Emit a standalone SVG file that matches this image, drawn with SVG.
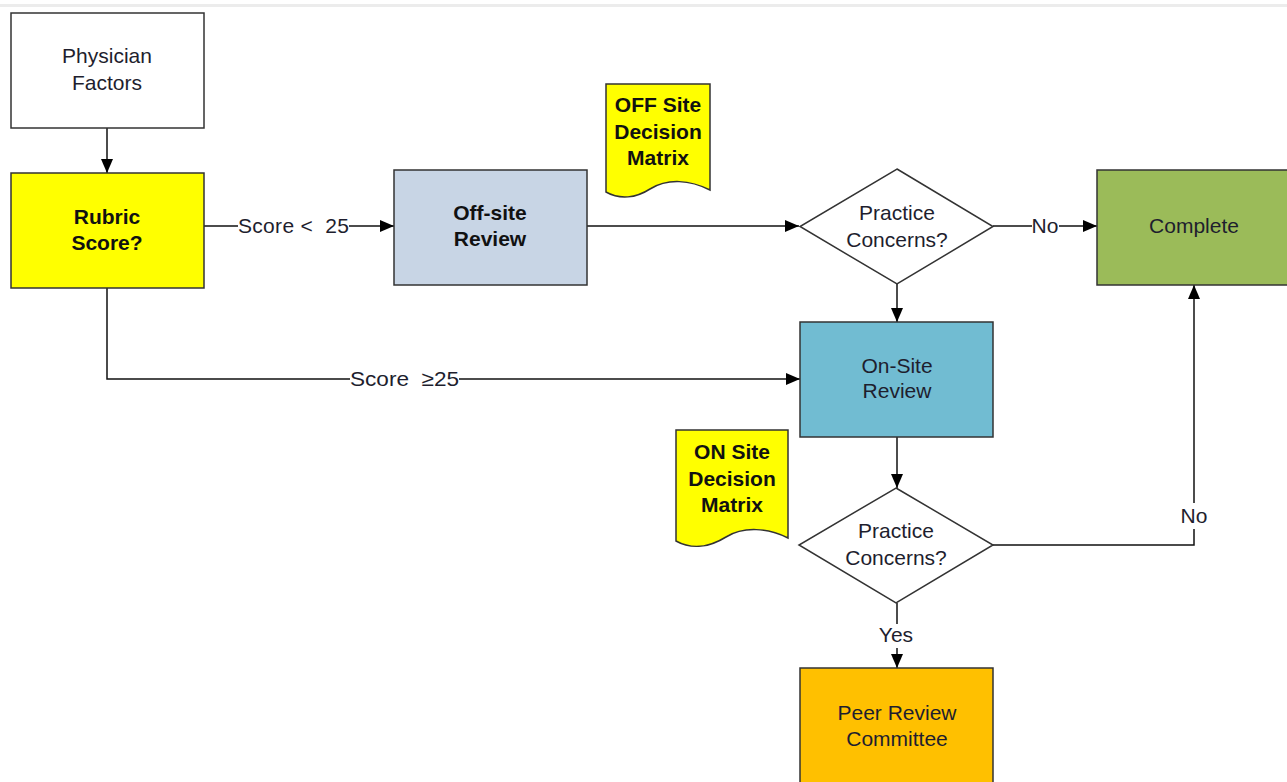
<svg xmlns="http://www.w3.org/2000/svg" width="1287" height="782" viewBox="0 0 1287 782">
<style>
.box{stroke:#333;stroke-width:1.5}
.t{font-family:"Liberation Sans",Arial,sans-serif;font-size:21px;fill:#1e1e2e;text-anchor:middle}
.b{font-weight:bold;fill:#111}
.s{text-anchor:start}
.c{stroke:#111;stroke-width:1.5;fill:none}
</style>
<defs>
<marker id="ah" viewBox="0 0 14 12" refX="14" refY="6" markerWidth="14" markerHeight="12" markerUnits="userSpaceOnUse" orient="auto">
<path d="M0,0 L14,6 L0,12 Z" fill="#000"/>
</marker>
</defs>
<rect width="1287" height="782" fill="#fff"/>
<rect x="0" y="4" width="1287" height="3" fill="#ececec"/>

<g id="connectors">
<path class="c" d="M107,128 V173" marker-end="url(#ah)"/>
<path class="c" d="M204,226 H238"/>
<path class="c" d="M349,226 H394" marker-end="url(#ah)"/>
<path class="c" d="M587,226 H799" marker-end="url(#ah)"/>
<path class="c" d="M993,226 H1032"/>
<path class="c" d="M1059,226 H1097" marker-end="url(#ah)"/>
<path class="c" d="M897,284 V322" marker-end="url(#ah)"/>
<path class="c" d="M107,288 V379 H350"/>
<path class="c" d="M459,379 H800" marker-end="url(#ah)"/>
<path class="c" d="M897,437 V488" marker-end="url(#ah)"/>
<path class="c" d="M993,545 H1194 V529"/>
<path class="c" d="M1194,503 V285" marker-end="url(#ah)"/>
<path class="c" d="M897,603 V624"/>
<path class="c" d="M897,648 V668" marker-end="url(#ah)"/>
<text class="t s" x="238" y="233" textLength="111" xml:space="preserve">Score &lt;  25</text>
<text class="t s" x="350" y="386" textLength="109" lengthAdjust="spacingAndGlyphs" xml:space="preserve">Score  ≥25</text>
<text class="t" x="1045" y="233">No</text>
<text class="t" x="1194" y="523">No</text>
<text class="t" x="896" y="642">Yes</text>
</g>

<g id="physician">
<rect class="box" x="11" y="13" width="193" height="115" fill="#fff"/>
<text class="t" x="107" y="63">Physician</text>
<text class="t" x="107" y="90">Factors</text>
</g>
<g id="rubric">
<rect class="box" x="11" y="173" width="193" height="115" fill="#ffff00"/>
<text class="t b" x="107" y="224">Rubric</text>
<text class="t b" x="107" y="250">Score?</text>
</g>
<g id="offsite">
<rect class="box" x="394" y="170" width="193" height="115" fill="#c8d5e5"/>
<text class="t b" x="490" y="220">Off-site</text>
<text class="t b" x="490" y="246">Review</text>
</g>
<g id="offdoc">
<path class="box" stroke-width="1" d="M606,84 H710 V190 C690,180 668,178 650,189 C636,198 620,200 606,192 Z" fill="#ffff00"/>
<text class="t b" x="658" y="112">OFF Site</text>
<text class="t b" x="658" y="139">Decision</text>
<text class="t b" x="658" y="165">Matrix</text>
</g>
<g id="decision1">
<path class="box" stroke="#555" d="M897,169 L993,226.5 L897,284 L800,226.5 Z" fill="#fff"/>
<text class="t" x="897" y="220">Practice</text>
<text class="t" x="897" y="247">Concerns?</text>
</g>
<g id="complete">
<rect class="box" x="1097" y="170" width="200" height="115" fill="#9bbb59"/>
<text class="t" x="1194" y="233">Complete</text>
</g>
<g id="onsite">
<rect class="box" x="800" y="322" width="193" height="115" fill="#71bcd2"/>
<text class="t" x="897" y="373">On-Site</text>
<text class="t" x="897" y="398">Review</text>
</g>
<g id="ondoc">
<path class="box" stroke-width="1" d="M676,430 H788 V538 C768,528 744,526 726,537 C710,547 692,550 676,541 Z" fill="#ffff00"/>
<text class="t b" x="732" y="459">ON Site</text>
<text class="t b" x="732" y="486">Decision</text>
<text class="t b" x="732" y="512">Matrix</text>
</g>
<g id="decision2">
<path class="box" stroke="#555" d="M896,488 L993,545 L896,603 L799,545 Z" fill="#fff"/>
<text class="t" x="896" y="538">Practice</text>
<text class="t" x="896" y="565">Concerns?</text>
</g>
<g id="peer">
<rect class="box" x="800" y="668" width="193" height="130" fill="#ffc000"/>
<text class="t" x="897" y="720">Peer Review</text>
<text class="t" x="897" y="746">Committee</text>
</g>
</svg>
